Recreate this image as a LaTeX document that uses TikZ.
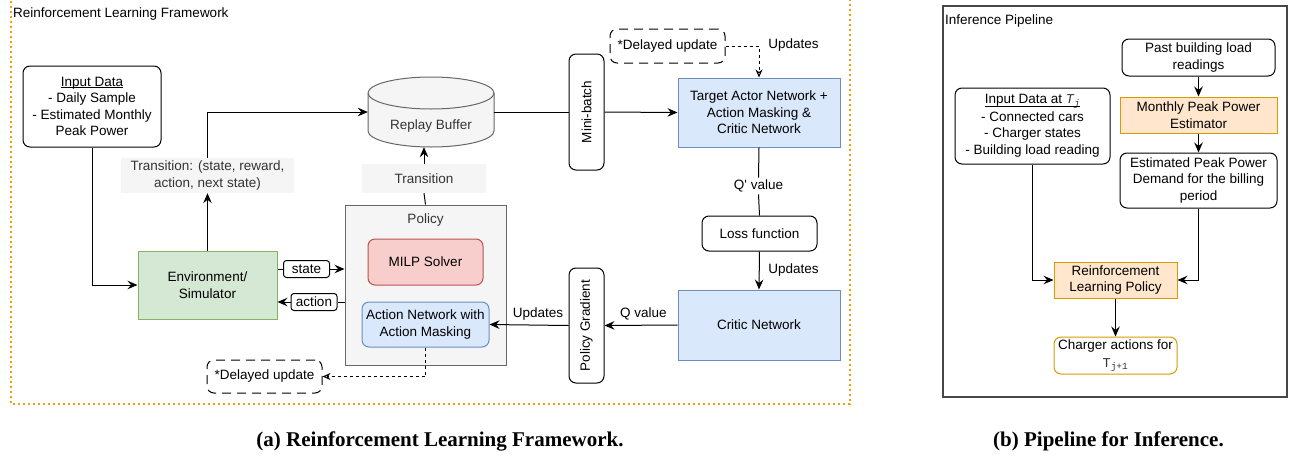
\documentclass[tikz,border=0pt]{standalone}
\usepackage{fontspec}
\setmainfont{Liberation Sans}
\newfontfamily\capfont{Liberation Serif}
\newfontfamily\monofont{Liberation Mono}
\usetikzlibrary{arrows.meta}

\definecolor{greenF}{HTML}{D5E8D4}\definecolor{greenD}{HTML}{82B366}
\definecolor{blueF}{HTML}{DAE8FC}\definecolor{blueD}{HTML}{6C8EBF}
\definecolor{redF}{HTML}{F8CECC}\definecolor{redD}{HTML}{B85450}
\definecolor{orangeF}{HTML}{FFE6CC}\definecolor{orangeD}{HTML}{D79B00}
\definecolor{grayF}{HTML}{F5F5F5}\definecolor{grayD}{HTML}{666666}
\definecolor{textgray}{HTML}{333333}
\definecolor{frameorange}{HTML}{E8A20A}

% underline drawn just below the baseline
\newcommand{\ulbase}[1]{\leavevmode\vtop{\hbox{#1}\kern-2.2pt\hrule height 0.9pt}}

\begin{document}
\begin{tikzpicture}[x=1pt,y=-1pt,
  txt/.style={font=\fontsize{13.5}{16.5}\selectfont, align=center, inner sep=0pt},
  blk/.style={txt, draw, line width=1pt},
  rbox/.style={blk, rounded corners=7pt},
  dashbox/.style={rbox, dash pattern=on 9pt off 6pt},
  greenbox/.style={blk, fill=greenF, draw=greenD},
  bluebox/.style={blk, fill=blueF, draw=blueD},
  orangebox/.style={blk, fill=orangeF, draw=orangeD},
  tag/.style={txt, draw, line width=1pt, rounded corners=3pt, fill=white, minimum height=17},
  edgelabel/.style={txt, fill=grayF, text=textgray},
  ln/.style={line width=1pt},
  arr/.style={line width=1pt, -{Stealth[length=10pt,width=8.5pt,inset=3.5pt]}},
  dotarr/.style={line width=1pt, dash pattern=on 3pt off 3pt, -{Stealth[open,length=8pt,width=7pt,inset=2.5pt]}},
  caption/.style={inner sep=0pt, font=\capfont\bfseries\fontsize{21}{24}\selectfont}
]
\useasboundingbox (0,0) rectangle (1293,458);

% ---------------- (a) training framework ----------------
\draw[frameorange, line width=2.2pt, dash pattern=on 2.2pt off 2.8pt] (11,-4) rectangle (850,404);
\node[txt, anchor=west] (fwtitle) at (13,14) {Reinforcement Learning Framework};

% policy group
\node[blk, fill=grayF, draw=grayD, minimum width=161, minimum height=160] (pol) at (425.5,285) {};
\node[txt, text=textgray] (poltitle) at (425.5,220) {Policy};
\node[rbox, fill=redF, draw=redD, minimum width=115, minimum height=46] (milp) at (425.5,262) {MILP Solver};
\node[rbox, fill=blueF, draw=blueD, minimum width=127, minimum height=45] (act) at (425.5,324.5) {Action Network with\\Action Masking};

% replay buffer (cylinder)
\node[minimum width=126, minimum height=70, inner sep=0pt] (buf) at (431,112) {};
\draw[line width=1pt, draw=grayD, fill=grayF]
  (368,93) -- (368,131) arc[start angle=180, end angle=360, x radius=63pt, y radius=16pt]
  -- (494,93) arc[start angle=0, end angle=180, x radius=63pt, y radius=16pt] -- cycle;
\draw[line width=1pt, draw=grayD] (368,93) arc[start angle=180, end angle=360, x radius=63pt, y radius=16pt];
\node[txt, text=textgray] (buftext) at (431,126) {Replay Buffer};

% main nodes
\node[rbox, minimum width=138, minimum height=81] (inp) at (92,106.5) {\ulbase{Input Data}\\- Daily Sample\\- Estimated Monthly\\Peak Power};
\node[greenbox, minimum width=139, minimum height=68] (env) at (207.5,285) {Environment/\\Simulator};
\node[edgelabel, minimum width=173, minimum height=35] (tr1) at (207.5,175.5) {Transition: (state, reward,\\action, next state)};
\node[edgelabel, minimum width=124, minimum height=29] (tr2) at (424,178.5) {Transition};
\node[rbox, minimum width=35, minimum height=116] (mb) at (586.5,112) {};
\node[txt, rotate=90] (mbtext) at (mb) {Mini-batch};
\node[bluebox, minimum width=162, minimum height=69] (target) at (759,112.5) {Target Actor Network +\\Action Masking \&\\Critic Network};
\node[dashbox, minimum width=115, minimum height=34] (dly1) at (667.5,46) {*Delayed update};
\node[txt] (upd1) at (793.5,45) {Updates};
\node[txt, fill=white, inner sep=2pt] (qp) at (758.5,186) {Q\textquotesingle{} value};
\node[rbox, minimum width=115, minimum height=35] (loss) at (759.5,233.5) {Loss function};
\node[txt] (upd2) at (793.5,270) {Updates};
\node[bluebox, minimum width=162, minimum height=70] (critic) at (759,325) {Critic Network};
\node[rbox, minimum width=35, minimum height=115] (pg) at (586.5,325.5) {};
\node[txt, rotate=90] (pgtext) at (pg) {Policy Gradient};
\node[txt] (qv) at (643.5,314) {Q value};
\node[txt] (upd3) at (538,314) {Updates};
\node[dashbox, minimum width=115, minimum height=33] (dly2) at (264.5,376.5) {*Delayed update};
\node[tag, minimum width=46] (st) at (306.5,269) {state};
\node[tag, minimum width=46] (ac) at (314,302) {action};

% connectors
\draw[arr] (inp.south) |- (env.west);
\draw[arr] (env.north) -- (tr1.south);
\draw[arr] (tr1.north) |- (buf.west);
\draw[ln] (pol.north) -- (tr2.south);
\draw[arr] (tr2.north) -- (tr2.north |- buf.south);
\draw[ln] (buf.east) -- (mb.west);
\draw[arr] (mb.east) -- (target.west);
\draw[dotarr] (dly1.east) -| (target.north);
\draw[ln] (target.south) -- (qp.north);
\draw[ln] (qp.south) -- (loss.north);
\draw[arr] (loss.south) -- (critic.north);
\draw[arr] (critic.west) -- (pg.east);
\draw[arr] (pg.west) -- (act.east);
\draw[dotarr] (act.south) |- (dly2.east);
\draw[ln] (env.east |- st) -- (st.west);
\draw[arr] (st.east) -- (st.east -| pol.west);
\draw[ln] (ac.east -| pol.west) -- (ac.east);
\draw[arr] (ac.west) -- (ac.west -| env.east);

% ---------------- (b) inference pipeline ----------------
\draw[line width=1.5pt, draw=grayD!70!black] (943,6) rectangle (1287,397);
\node[txt, anchor=west] (iptitle) at (945,21) {Inference Pipeline};
\node[rbox, minimum width=153, minimum height=37] (past) at (1198.5,57.5) {Past building load\\readings};
\node[orangebox, minimum width=157, minimum height=36] (est) at (1198.5,115) {Monthly Peak Power\\Estimator};
\node[rbox, minimum width=157, minimum height=55] (peak) at (1198.5,180.5) {Estimated Peak Power\\Demand for the billing\\period};
\node[rbox, minimum width=155, minimum height=76] (inp2) at (1032.5,126)
  {\ulbase{Input Data at \textcolor{textgray}{\monofont\itshape T\textsubscript{j}}}\\[1pt]- Connected cars\\- Charger states\\- Building load reading};
\node[orangebox, minimum width=123, minimum height=36] (rl) at (1115.5,280) {Reinforcement\\Learning Policy};
\node[rbox, draw=orangeD, fill=white, minimum width=123, minimum height=37] (chg) at (1115.5,355.5)
  {Charger actions for\\[2pt]\textcolor{textgray}{\monofont T\textsubscript{j+1}}};

\draw[arr] (past.south) -- (est.north);
\draw[arr] (est.south) -- (peak.north);
\draw[arr] (inp2.south) |- (rl.west);
\draw[arr] (peak.south) |- (rl.east);
\draw[arr] (rl.south) -- (chg.north);

% captions
\node[caption] (capa) at (440,441) {(a) Reinforcement Learning Framework.};
\node[caption] (capb) at (1108.5,441) {(b) Pipeline for Inference.};
\end{tikzpicture}
\end{document}
